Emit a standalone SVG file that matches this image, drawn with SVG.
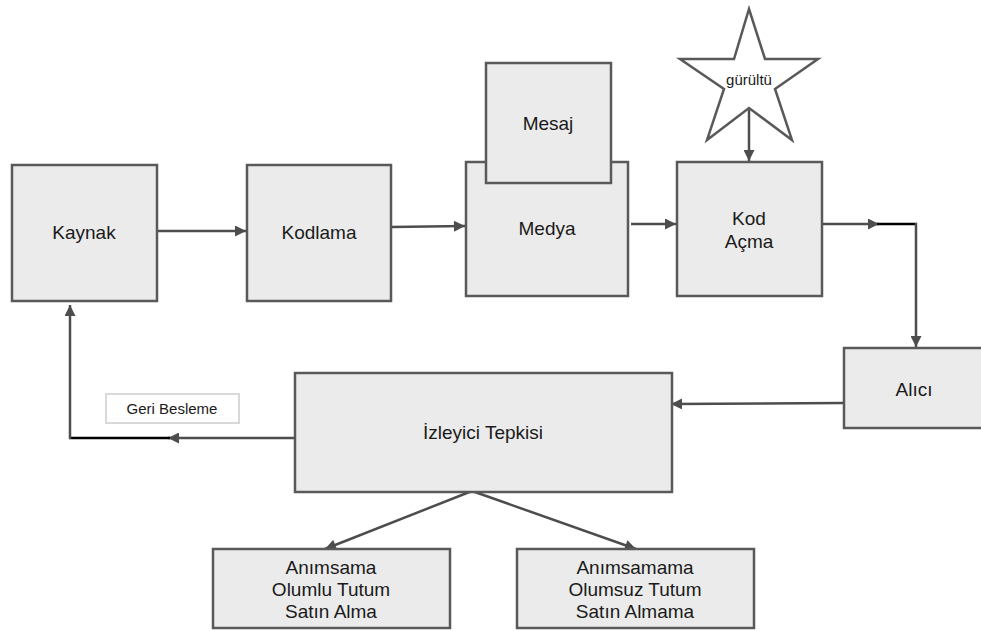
<svg xmlns="http://www.w3.org/2000/svg" width="981" height="631" viewBox="0 0 981 631">
<style>
.box{fill:#ebebeb;stroke:#595959;stroke-width:2.5}
.t{font-family:"Liberation Sans",Arial,sans-serif;font-size:19px;fill:#1a1a1a;text-anchor:middle}
.s{font-size:15px}
.c{fill:none;stroke:#4d4d4d;stroke-width:2.5}
.k{fill:none;stroke:#000;stroke-width:2.5}
</style>
<defs>
<marker id="a" viewBox="0 0 10 10" refX="10" refY="5" markerWidth="12" markerHeight="11" markerUnits="userSpaceOnUse" orient="auto">
<path d="M0,0 L10,5 L0,10 Z" fill="#4d4d4d"/>
</marker>
</defs>
<rect width="981" height="631" fill="#fff"/>
<g id="connectors">
<line class="c" x1="157" y1="231" x2="246" y2="231" marker-end="url(#a)"/>
<line class="c" x1="391" y1="227" x2="465" y2="226" marker-end="url(#a)"/>
<line class="c" x1="631" y1="224" x2="676" y2="224" marker-end="url(#a)"/>
<line class="c" x1="749" y1="110" x2="749" y2="161" marker-end="url(#a)"/>
<line class="c" x1="822" y1="224" x2="879" y2="224" marker-end="url(#a)"/>
<line class="k" x1="877" y1="224" x2="917" y2="224"/>
<line class="c" x1="916" y1="223" x2="916" y2="347" marker-end="url(#a)"/>
<line class="c" x1="844" y1="403" x2="671" y2="404" marker-end="url(#a)"/>
<line class="c" x1="295" y1="438" x2="168" y2="438" marker-end="url(#a)"/>
<line class="k" x1="170" y1="438" x2="69" y2="438"/>
<line class="c" x1="70" y1="439" x2="70" y2="305" marker-end="url(#a)"/>
<line class="c" x1="472" y1="491" x2="325" y2="549" marker-end="url(#a)"/>
<line class="c" x1="472" y1="491" x2="636" y2="549" marker-end="url(#a)"/>
</g>
<g id="kaynak"><rect class="box" x="12" y="165" width="145" height="136"/><text class="t" x="84" y="239">Kaynak</text></g>
<g id="kodlama"><rect class="box" x="247" y="165" width="144" height="136"/><text class="t" x="319" y="239">Kodlama</text></g>
<g id="medya"><rect class="box" x="466" y="162" width="162" height="134"/><text class="t" x="547" y="235">Medya</text></g>
<g id="mesaj"><rect class="box" x="486" y="63" width="125" height="120"/><text class="t" x="548" y="130">Mesaj</text></g>
<g id="kodacma"><rect class="box" x="677" y="162" width="145" height="134"/><text class="t" x="749" y="225">Kod</text><text class="t" x="749" y="248">Açma</text></g>
<g id="gurultu"><polygon points="749,9 765,59 818,59 775,89 792,140 749,108 707,140 724,89 680,59 734,59" fill="#fff" stroke="#595959" stroke-width="2.5"/><text class="t s" x="749" y="85">gürültü</text></g>
<g id="alici"><rect class="box" x="844" y="348" width="140" height="80"/><text class="t" x="914" y="396">Alıcı</text></g>
<g id="izleyici"><rect class="box" x="295" y="373" width="377" height="119"/><text class="t" x="483" y="439">İzleyici Tepkisi</text></g>
<g id="geribesleme"><rect x="106" y="394" width="133" height="29" fill="#fff" stroke="#d9d9d9" stroke-width="2"/><text class="t s" x="172" y="414">Geri Besleme</text></g>
<g id="olumlu"><rect class="box" x="213" y="549" width="237" height="79"/><text class="t" x="331" y="574">Anımsama</text><text class="t" x="331" y="596">Olumlu Tutum</text><text class="t" x="331" y="618">Satın Alma</text></g>
<g id="olumsuz"><rect class="box" x="517" y="549" width="237" height="79"/><text class="t" x="635" y="574">Anımsamama</text><text class="t" x="635" y="596">Olumsuz Tutum</text><text class="t" x="635" y="618">Satın Almama</text></g>
</svg>
